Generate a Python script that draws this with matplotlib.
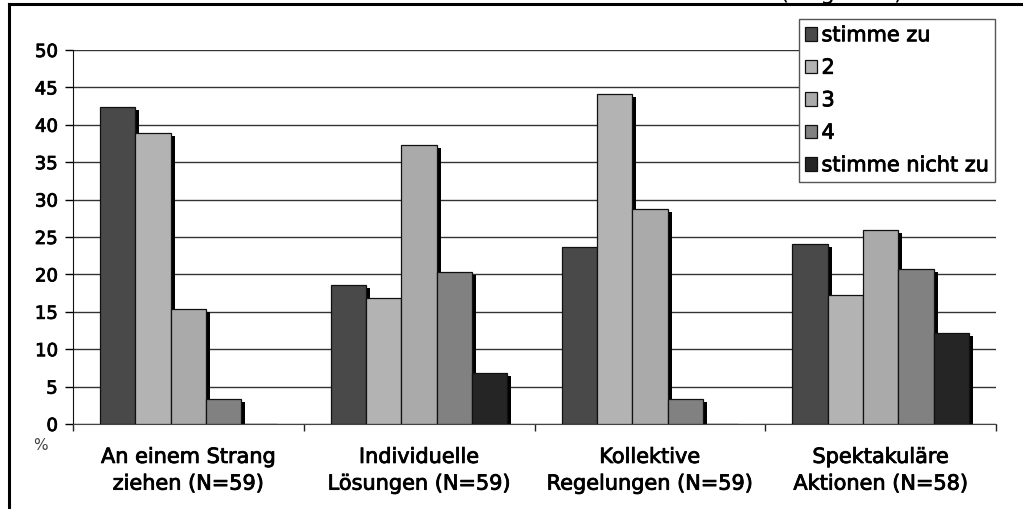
import numpy as np
import matplotlib
matplotlib.use("Agg")
import matplotlib.pyplot as plt
import matplotlib.transforms as mtransforms
import matplotlib.patheffects as pe
from matplotlib.lines import Line2D

# Data (percent)
categories = ["An einem Strang\nziehen (N=59)",
              "Individuelle\nLösungen (N=59)",
              "Kollektive\nRegelungen (N=59)",
              "Spektakuläre\nAktionen (N=58)"]
series_names = ["stimme zu", "2", "3", "4", "stimme nicht zu"]
stimme_zu = [42.4, 18.6, 23.7, 24.1]
val_2 = [38.9, 16.9, 44.1, 17.2]
val_3 = [15.4, 37.3, 28.8, 25.9]
val_4 = [3.4, 20.3, 3.4, 20.7]
stimme_nicht_zu = [0.0, 6.8, 0.0, 12.1]
yticks = [0, 5, 10, 15, 20, 25, 30, 35, 40, 45, 50]

series = [stimme_zu, val_2, val_3, val_4, stimme_nicht_zu]
colors = ["#494949", "#b3b3b3", "#aaaaaa", "#818181", "#252525"]

# the original text is wide, DejaVu Sans comes closest
plt.rcParams['font.family'] = ['DejaVu Sans']
plt.rcParams['text.color'] = 'black'
plt.rcParams['xtick.color'] = 'black'
plt.rcParams['ytick.color'] = 'black'

# a thin outline makes the text a little heavier, like the scan
heavy = [pe.withStroke(linewidth=0.6, foreground='black')]

fig = plt.figure(figsize=(10.23, 5.1), dpi=100, facecolor='white')
ax = fig.add_axes([73/1023, 85/510, 923/1023, 374/510])

x = np.arange(len(categories))
bw = 0.153
# shadow offset: a few pixels right and down
shadow = ax.transData + mtransforms.ScaledTranslation(4/100, -3/100, fig.dpi_scale_trans)
for i, vals in enumerate(series):
    pos = x + (i - 2) * bw
    ax.bar(pos, vals, width=bw, color='black', linewidth=0, zorder=2, transform=shadow)
    ax.bar(pos, vals, width=bw, color=colors[i], edgecolor='#111111', linewidth=0.9,
           zorder=3, label=series_names[i])

ax.set_xlim(-0.5, len(categories) - 0.5)
ax.set_ylim(0, 50)
ax.set_yticks(yticks)
ax.yaxis.grid(True, color='#333333', linewidth=1.0)
ax.set_axisbelow(True)

# group boundary ticks, labels centred between them
ax.set_xticks(np.arange(len(categories) + 1) - 0.5)
ax.set_xticklabels([])
ax.set_xticks(x, minor=True)
ax.set_xticklabels(categories, minor=True, fontsize=15, linespacing=1.42)
ax.tick_params(axis='x', which='minor', length=0, pad=16.5)
ax.tick_params(axis='x', which='major', length=5, width=1, direction='out', color='#222222')
ax.tick_params(axis='y', length=6, width=1, direction='out', labelsize=13, pad=5)

for s in ['top', 'right']:
    ax.spines[s].set_visible(False)
ax.spines['left'].set_color('#111111')
ax.spines['bottom'].set_color('#444444')

leg = ax.legend(loc='upper right', bbox_to_anchor=(995/1023, 1 - 20/510),
                bbox_transform=fig.transFigure, fontsize=15, frameon=True,
                fancybox=False, edgecolor='#555555', framealpha=1, handlelength=0.6,
                handleheight=0.6, handletextpad=0.2, labelspacing=0.6,
                borderpad=0.3, borderaxespad=0)
leg.get_frame().set_linewidth(1.0)
leg.set_zorder(10)

fig.text(40/1023, 1 - 446/510, "%", fontsize=11, color='#444444',
         ha='center', va='center')
# heading that is cut off at the top edge in the original
fig.text(842/1023, 1 + 1/510, "(Angaben)", fontsize=17,
         ha='center', va='baseline')

for t in (ax.get_xticklabels(minor=True) + ax.get_yticklabels() + leg.get_texts()):
    t.set_path_effects(heavy)

# outer frame (cut at right and bottom)
fig.add_artist(Line2D([9/1023, 9/1023], [0, 1 - 5/510], color='black', linewidth=2.2,
                      transform=fig.transFigure))
fig.add_artist(Line2D([9/1023, 1], [1 - 5/510, 1 - 5/510], color='black', linewidth=2.2,
                      transform=fig.transFigure))

fig.savefig("out.png", dpi=100, facecolor='white')
